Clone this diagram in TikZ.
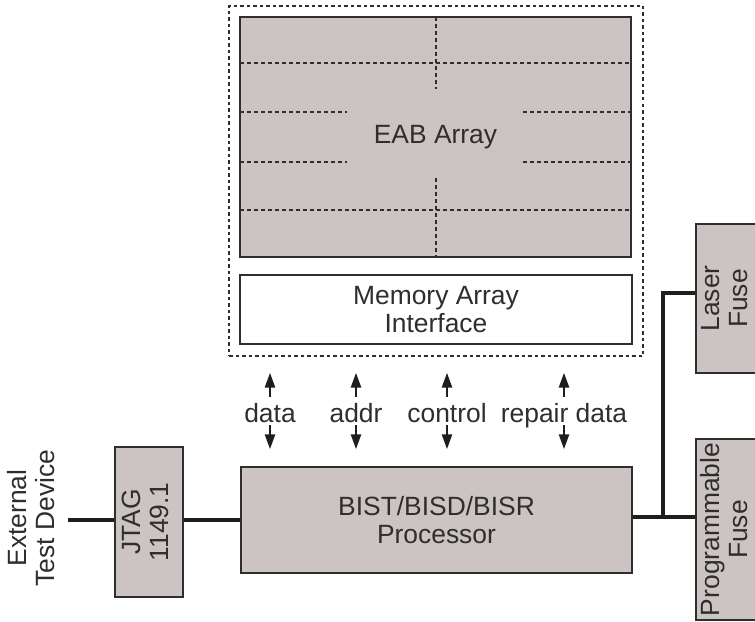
\documentclass[tikz,border=0pt]{standalone}
\usepackage{fontspec}
\usepackage{graphicx}
\setmainfont{Liberation Sans}
\usetikzlibrary{arrows.meta}
\definecolor{boxfill}{HTML}{CCC4C2}
\definecolor{ink}{HTML}{2E2E2E}
\definecolor{wirec}{HTML}{1E1E1E}
\tikzset{
  graybox/.style={draw=ink, line width=1.5bp, fill=boxfill, inner sep=0pt, align=center},
  whitebox/.style={draw=ink, line width=1.5bp, fill=white, inner sep=0pt, align=center},
  wire/.style={draw=wirec, line width=4.8bp},
  arr/.style={-{Triangle[length=15bp,width=10bp]}, line width=2.6bp, draw=wirec},
  griddash/.style={draw=ink, line width=1.3bp, dash pattern=on 4bp off 3bp},
  outerdash/.style={draw=ink, line width=1.4bp, dash pattern=on 3.5bp off 3bp, inner sep=0pt},
  lbl/.style={inner sep=0pt, text height=25bp, text depth=3bp, anchor=base},
}
\newcommand{\rotlines}[1]{\rotatebox{90}{\begin{tabular}{@{}c@{}}#1\end{tabular}}}
\begin{document}
\begin{tikzpicture}[x=1bp, y=-1bp, font=\fontsize{26.5}{27.5}\selectfont, text=ink]
\clip (0,0) rectangle (755,622);
\fill[white] (0,0) rectangle (755,622);

% dashed enclosure
\node[outerdash, minimum width=414bp, minimum height=350bp] (outer) at (436,181) {};

% EAB array
\node[graybox, minimum width=391bp, minimum height=240bp] (eab) at (435.5,137) {};
\draw[griddash] (240,63) -- (631,63);
\draw[griddash] (240,210) -- (631,210);
\draw[griddash] (240,112) -- (347,112);
\draw[griddash] (523,112) -- (631,112);
\draw[griddash] (240,162) -- (347,162);
\draw[griddash] (523,162) -- (631,162);
\draw[griddash] (436,17) -- (436,89);
\draw[griddash] (436,178) -- (436,257);
\node[inner sep=0pt] (eabtxt) at (435.5,137) {EAB Array};

% memory array interface
\node[whitebox, minimum width=392bp, minimum height=69bp] (mai) at (436,309.5) {Memory Array\\Interface};

% processor
\node[graybox, minimum width=391bp, minimum height=106bp] (bist) at (436.5,520) {BIST/BISD/BISR\\Processor};

% JTAG
\node[graybox, minimum width=68bp, minimum height=150bp] (jtag) at (149,522) {\rotlines{JTAG\\1149.1}};

% external test device label
\node[inner sep=0pt] (ext) at (35,518) {\rotlines{External\\Test Device}};

% fuses
\node[graybox, minimum width=64bp, minimum height=149bp] (laser) at (728,298.5) {\rotlines{Laser\\Fuse}};
\node[graybox, minimum width=64bp, minimum height=181bp] (prog) at (728,529.5) {\rotlines{Programmable\\Fuse}};

% signal labels
\node[lbl] (ldata) at (270,422) {data};
\node[lbl] (laddr) at (356,422) {addr};
\node[lbl] (lctrl) at (447,422) {control};
\node[lbl] (lrep) at (564,422) {repair\vphantom{p} data};

\foreach \n in {ldata,laddr,lctrl} {
  \draw[arr, shorten >=16bp] (\n.north) -- (\n.north |- outer.south);
  \draw[arr, shorten >=17bp] (\n.south) -- (\n.south |- bist.north);
}
\coordinate (rx) at (564,0);
\draw[arr, shorten >=16bp] (rx |- lrep.north) -- (rx |- outer.south);
\draw[arr, shorten >=17bp] (rx |- lrep.south) -- (rx |- bist.north);

% wires
\coordinate (extp) at (68,520);
\draw[wire] (extp) -- (extp -| jtag.west);
\draw[wire] (jtag.east |- extp) -- (extp -| bist.west);
\coordinate (jn) at (663,517);
\coordinate (lz) at (696,293);
\draw[wire] (bist.east |- jn) -- (jn -| prog.west);
\draw[wire] (jn) |- (laser.west |- lz);
\end{tikzpicture}
\end{document}
